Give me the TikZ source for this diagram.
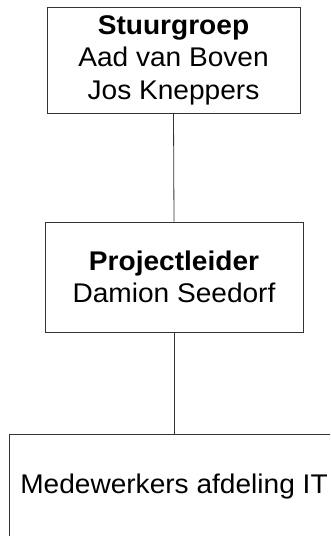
\documentclass[tikz,border=0pt]{standalone}
\usepackage{fontspec}
\setmainfont{Liberation Sans}[FakeStretch=1.04]
\begin{document}
\begin{tikzpicture}[x=1pt,y=-1pt,
  orgbox/.style={draw=black!80, line width=0.8pt, align=center, inner sep=0pt,
    font=\fontsize{27}{32.5}\selectfont},
  link/.style={draw=black!80, line width=0.8pt}]
\useasboundingbox (0,0) rectangle (330,536);
\clip (0,0) rectangle (330,536);
\node[orgbox, minimum width=253pt, minimum height=106pt] (top) at (173.5,60)
  {\textbf{Stuurgroep}\\Aad van Boven\\Jos Kneppers};
\node[orgbox, minimum width=258pt, minimum height=110pt] (mid) at (174,277)
  {\textbf{Projectleider}\\Damion Seedorf};
\node[orgbox, minimum width=330pt, minimum height=106pt] (bot) at (174,487)
  {Medewerkers afdeling IT};
\draw[link] (top.south) -- (mid.north);
\draw[link] (mid.south) -- (bot.north);
\end{tikzpicture}
\end{document}
